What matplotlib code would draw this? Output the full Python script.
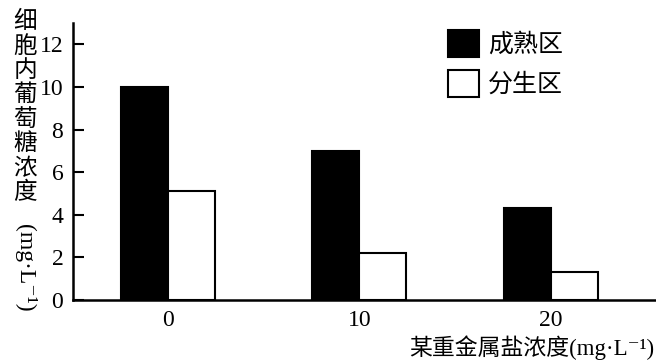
import numpy as np
import matplotlib
matplotlib.use('Agg')
import matplotlib.pyplot as plt
from matplotlib.patches import Patch

plt.rcParams['font.family'] = ['Liberation Serif', 'DejaVu Serif', 'Noto Sans CJK SC']

# dati
concentrazioni = ['0', '10', '20']            # 某重金属盐浓度
maturazione = [10.0, 7.0, 4.3]                # 成熟区
meristema = [5.1, 2.2, 1.3]                   # 分生区
serie = ['成熟区', '分生区']
y_ticks = [0, 2, 4, 6, 8, 10, 12]
ylabel_cn = '细胞内葡萄糖浓度'
ylabel_unit = '(mg·L⁻¹)'
xlabel = '某重金属盐浓度(mg·L⁻¹)'

W, H = 656, 362
fig = plt.figure(figsize=(W / 100, H / 100), dpi=100)
ax = fig.add_axes([73 / W, 1 - 300 / H, 1 - 73 / W, (300 - 23) / H])

x = np.arange(len(concentrazioni))
w = 0.245
ax.bar(x - w / 2, maturazione, w, color='black', edgecolor='black', linewidth=1.5)
ax.bar(x + w / 2, meristema, w, color='white', edgecolor='black', linewidth=1.5)

ax.set_xlim(-0.496, 2.55)
ax.set_ylim(0, 13)
ax.set_yticks(y_ticks)
ax.set_xticks(x)
ax.set_xticklabels(concentrazioni)
ax.tick_params(axis='y', direction='in', length=8, width=1.5, pad=7, labelsize=17)
ax.tick_params(axis='x', length=0, pad=7, labelsize=17)

for s in ['top', 'right']:
    ax.spines[s].set_visible(False)
for s in ['left', 'bottom']:
    ax.spines[s].set_linewidth(1.8)

# legenda
handles = [Patch(facecolor='black', edgecolor='black', linewidth=1.5),
           Patch(facecolor='white', edgecolor='black', linewidth=1.5)]
ax.legend(handles, serie, loc='upper left', bbox_to_anchor=(448 / W, 1 - 30 / H),
          bbox_transform=fig.transFigure, frameon=False, borderpad=0,
          handlelength=1.25, handleheight=1.3, handletextpad=0.35,
          labelspacing=0.5, fontsize=18, borderaxespad=0)

# etichetta y verticale (caratteri dritti)
pitch = 24.5
for i, ch in enumerate(ylabel_cn):
    fig.text(25 / W, 1 - (22 + i * pitch) / H, ch, ha='center', va='center', fontsize=17)
fig.text(25 / W, 1 - 268 / H, ylabel_unit, ha='center', va='center',
         rotation=-90, fontsize=17)

fig.text(0.998, 1 - 348 / H, xlabel, ha='right', va='center', fontsize=16.5)

fig.savefig('out.png', dpi=100)
